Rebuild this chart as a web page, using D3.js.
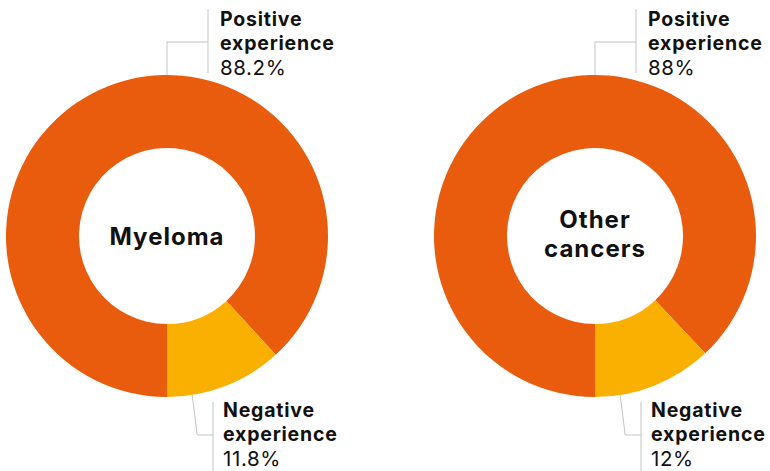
<!DOCTYPE html>
<html>
<head>
<meta charset="utf-8">
<script src="https://cdn.jsdelivr.net/npm/d3@7"></script>
<style>
  html, body { margin: 0; padding: 0; background: #fff; }
  svg { display: block; }
  text { font-family: "Inter", "Liberation Sans", sans-serif; fill: #111; }
</style>
</head>
<body>
<svg id="chart" width="770" height="471"></svg>
<script>
// ---- data ----
const groups = ["Myeloma", "Other cancers"];
const categories = ["Positive experience", "Negative experience"];
const positiveValues = [88.2, 88];
const negativeValues = [11.8, 12];
const positiveLabels = ["88.2%", "88%"];
const negativeLabels = ["11.8%", "12%"];

// ---- styling / layout ----
const colors = d3.scaleOrdinal().domain(categories).range(["#E95C0D", "#F9B000"]);
const centersX = [167, 595];
const centerY = 236;
const outerR = 161, innerR = 88;
const lineColor = "#c4c4c4";

const svg = d3.select("#chart");
const pie = d3.pie().sort(null).value(d => d.value)
  .startAngle(Math.PI).endAngle(3 * Math.PI);
const arc = d3.arc().innerRadius(innerR).outerRadius(outerR);

function label(x, y, txt, size, weight, ls) {
  return svg.append("text").attr("x", x).attr("y", y)
    .style("font-size", size + "px").style("font-weight", weight)
    .style("letter-spacing", ls + "px").text(txt);
}

groups.forEach((g, i) => {
  const cx = centersX[i];
  const data = [
    { cat: categories[0], value: positiveValues[i] },
    { cat: categories[1], value: negativeValues[i] }
  ];
  const gg = svg.append("g").attr("transform", `translate(${cx},${centerY})`);
  gg.selectAll("path").data(pie(data)).join("path")
    .attr("d", arc)
    .attr("fill", d => colors(d.data.cat));

  // center label
  const words = g.split(" ");
  const ys = words.length === 1 ? [9] : [-8, 21];
  words.forEach((w, k) => {
    gg.append("text").attr("text-anchor", "middle").attr("y", ys[k])
      .style("font-weight", "700").style("font-size", "24px")
      .style("letter-spacing", "1px").text(w);
  });

  // top leader (positive)
  const topY = centerY - outerR;
  const tx = cx + 41;
  svg.append("path")
    .attr("d", `M${cx},${topY} V42 H${tx} M${tx},9 V73`)
    .attr("fill", "none").attr("stroke", lineColor).attr("stroke-width", 1);
  const lx = tx + 12;
  label(lx, 26, "Positive", 19.5, 700, 0.8);
  label(lx, 50, "experience", 19.5, 700, 0.8);
  label(lx, 75, positiveLabels[i], 20.5, 400, 0.6);

  // bottom leader (negative)
  const a = 171 * Math.PI / 180;
  const sx = cx + outerR * Math.sin(a), sy = centerY - outerR * Math.cos(a);
  const bx = cx + 46;
  svg.append("path")
    .attr("d", `M${sx},${sy} L${sx + 5},435 H${bx} M${bx},402 V471`)
    .attr("fill", "none").attr("stroke", lineColor).attr("stroke-width", 1);
  const bx2 = bx + 10;
  label(bx2, 417, "Negative", 19.5, 700, 0.8);
  label(bx2, 441, "experience", 19.5, 700, 0.8);
  label(bx2, 466, negativeLabels[i], 20.5, 400, 0.6);
});
</script>
</body>
</html>
